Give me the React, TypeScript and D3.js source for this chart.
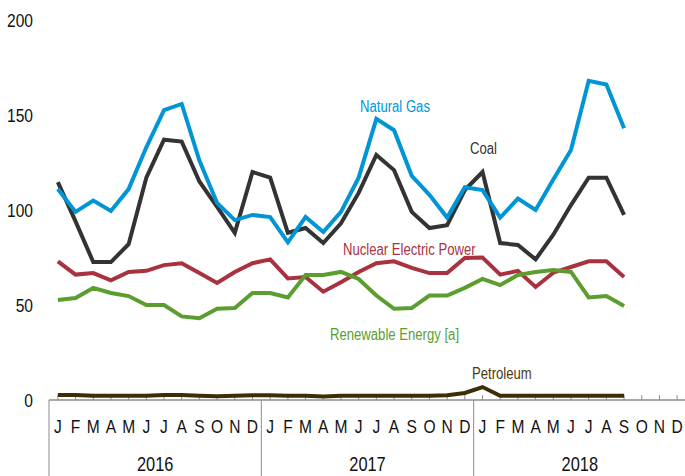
import React, { useEffect, useRef } from "react";
import * as d3 from "d3";

// monthly values, Jan 2016 .. Sep 2018
const months = ["J", "F", "M", "A", "M", "J", "J", "A", "S", "O", "N", "D"];
const years = ["2016", "2017", "2018"];

const naturalGas = [
  111, 99, 105, 99.5, 111, 133, 152.6, 155.8, 126, 103.7, 94.7, 97.4,
  96.3, 83, 96.3, 88.4, 99, 117, 148, 142, 118, 108, 96, 112,
  110.5, 96, 106, 100, 116, 131.6, 168, 166, 143,
];
const coal = [
  114.7, 94, 72.6, 72.6, 82, 117, 137, 136, 115, 101.6, 88, 120,
  117, 88, 90.5, 82.6, 93, 109, 129, 121, 99, 90.5, 92, 110.5,
  120, 82.6, 81.6, 74, 87, 102.6, 117, 117, 97.4,
];
const nuclear = [
  73, 66, 66.8, 63, 67.4, 68, 71, 72, 66.8, 61.6, 67.4, 72,
  74, 64, 64.7, 57, 62, 67.4, 72, 73, 69.5, 66.8, 66.8, 74.7,
  75, 66, 68, 59.5, 67, 70, 73, 73, 64.7,
];
const renewable = [
  52.6, 53.7, 59, 56.3, 54.7, 50, 50, 44, 43, 48, 48.4, 56.3,
  56.3, 54, 65.8, 65.8, 67.4, 63.7, 55, 48, 48.4, 55, 55, 59,
  63.7, 60.5, 65.8, 67.4, 68.4, 67.4, 54, 54.7, 49.5,
];
const petroleum = [
  2.6, 2.6, 2.2, 2.2, 2.2, 2.3, 2.6, 2.6, 2.3, 2, 2.2, 2.5,
  2.5, 2.2, 2.2, 1.8, 2.2, 2.2, 2.2, 2.2, 2.2, 2.2, 2.5, 3.7,
  6.8, 2.2, 2.2, 2.2, 2.2, 2.2, 2.2, 2.2, 2.2,
];
const yTicks = [0, 50, 100, 150, 200];

const series = [
  { name: "Petroleum", values: petroleum, color: "#3d2f05", text: "#4a3a12", lx: 472, ly: 379 },
  { name: "Nuclear Electric Power", values: nuclear, color: "#a8323f", text: "#a8323f", lx: 343, ly: 255 },
  { name: "Renewable Energy [a]", values: renewable, color: "#5b9e2f", text: "#5b9e2f", lx: 330, ly: 340 },
  { name: "Coal", values: coal, color: "#333333", text: "#333333", lx: 470, ly: 154 },
  { name: "Natural Gas", values: naturalGas, color: "#0096d6", text: "#0096d6", lx: 360, ly: 112 },
];

const FONT = "'Liberation Sans', Arial, sans-serif";
const SQUEEZE = 0.82; // narrow face imitation

const App = () => {
  const chartEl = useRef(null);

  useEffect(() => {
    const width = 685,
      height = 476;
    const svg = d3.select(chartEl.current);
    svg.selectAll("*").remove();
    svg.attr("width", width).attr("height", height);

    const at = (px: number, py: number) =>
      "translate(" + px + "," + py + ") scale(" + SQUEEZE + ",1)";

    const nMonths = months.length * years.length;
    const x = d3
      .scaleBand<number>()
      .domain(d3.range(nMonths))
      .range([49, 686]);
    const cx = (i: number) => (x(i) as number) + x.bandwidth() / 2;
    const y = d3.scaleLinear().domain([0, 200]).range([400, 20]);

    // y labels
    svg
      .append("g")
      .selectAll("text")
      .data(yTicks)
      .enter()
      .append("text")
      .attr("transform", (d) => at(33, y(d)))
      .attr("dy", "0.35em")
      .attr("text-anchor", "end")
      .attr("font-family", FONT)
      .attr("font-size", 19)
      .attr("fill", "#111")
      .text((d) => d);

    const axis = svg.append("g");
    axis
      .append("line")
      .attr("x1", 49)
      .attr("x2", width)
      .attr("y1", y(0))
      .attr("y2", y(0))
      .attr("stroke", "#8c8c8c")
      .attr("stroke-width", 1.5);

    // small ticks pointing up, one per month
    axis
      .selectAll(".tick")
      .data(d3.range(nMonths))
      .enter()
      .append("line")
      .attr("x1", (d) => cx(d))
      .attr("x2", (d) => cx(d))
      .attr("y1", y(0))
      .attr("y2", y(0) - 5)
      .attr("stroke", "#8c8c8c")
      .attr("stroke-width", 1);

    axis
      .selectAll(".sep")
      .data(d3.range(years.length))
      .enter()
      .append("line")
      .attr("x1", (d) => x(d * 12) as number)
      .attr("x2", (d) => x(d * 12) as number)
      .attr("y1", y(0))
      .attr("y2", height)
      .attr("stroke", "#8c8c8c")
      .attr("stroke-width", 1);

    axis
      .selectAll(".month")
      .data(d3.range(nMonths))
      .enter()
      .append("text")
      .attr("transform", (d) => at(cx(d), 433))
      .attr("text-anchor", "middle")
      .attr("font-family", FONT)
      .attr("font-size", 19)
      .attr("fill", "#111")
      .text((d) => months[d % 12]);

    axis
      .selectAll(".year")
      .data(years)
      .enter()
      .append("text")
      .attr("transform", (d, i) =>
        at((x(i * 12) as number) + x.bandwidth() * 6, 471)
      )
      .attr("text-anchor", "middle")
      .attr("font-family", FONT)
      .attr("font-size", 20)
      .attr("fill", "#111")
      .text((d) => d);

    const line = d3
      .line<number>()
      .x((d, i) => cx(i))
      .y((d) => y(d));

    series.forEach((s) => {
      svg
        .append("path")
        .datum(s.values)
        .attr("fill", "none")
        .attr("stroke", s.color)
        .attr("stroke-width", 4)
        .attr("d", line);
    });

    series.forEach((s) => {
      svg
        .append("text")
        .attr("transform", at(s.lx, s.ly))
        .attr("font-family", FONT)
        .attr("font-size", 16)
        .attr("fill", s.text)
        .text(s.name);
    });
  }, [chartEl]);

  return (
    <svg
      ref={chartEl}
      style={{ position: "absolute", left: 0, top: 0, background: "#fff" }}
    ></svg>
  );
};

export default App;
